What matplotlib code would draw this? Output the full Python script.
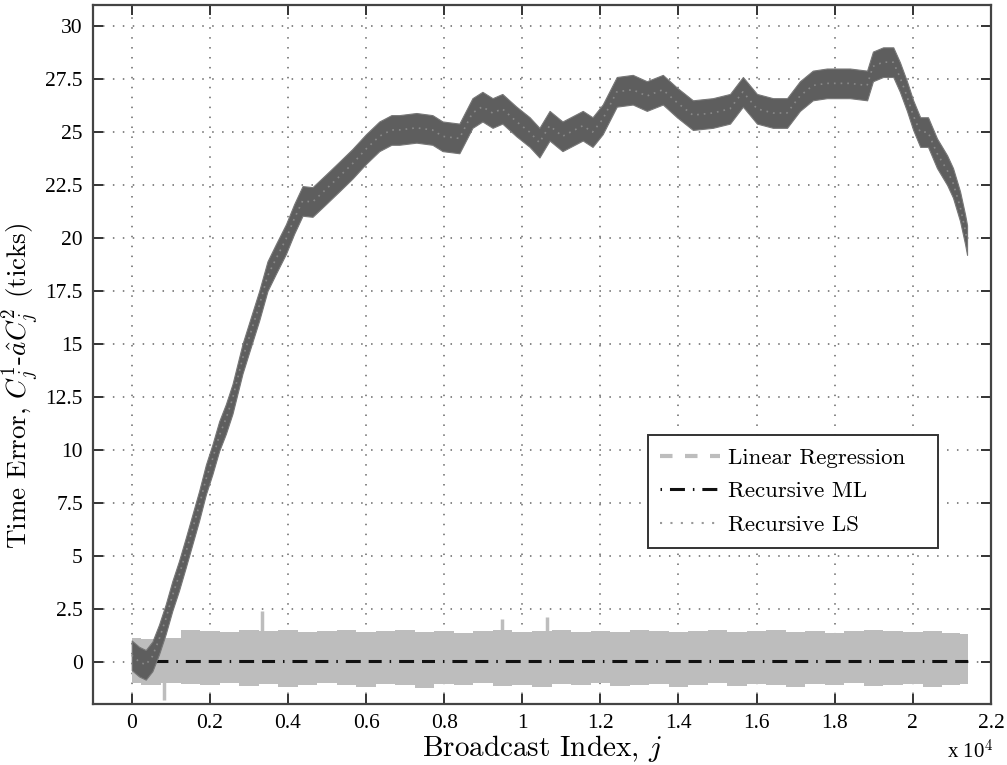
import matplotlib
matplotlib.use("Agg")
import matplotlib.pyplot as plt
from matplotlib.lines import Line2D

plt.rcParams['mathtext.fontset'] = 'cm'
plt.rcParams['font.family'] = ['Liberation Serif', 'DejaVu Serif']

# Recursive LS time error (centre of the noisy trace)
ls_j = [0, 190, 360, 530, 700, 870, 1040, 1210, 1385, 1555, 1725, 1900, 2067,
        2240, 2410, 2580, 2837, 3050, 3264, 3477, 3690, 3950, 4160, 4375, 4630,
        4975, 5315, 5650, 6000, 6340, 6650, 6850, 7290, 7700, 7960, 8390, 8725,
        8980, 9240, 9490, 9850, 10190, 10440, 10700, 11030, 11550, 11800, 12060,
        12420, 12830, 13190, 13600, 13960, 14370, 14880, 15320, 15650, 16010,
        16420, 16780, 17110, 17440, 17800, 18390, 18830, 18980, 19240, 19500,
        19670, 19850, 20010, 20190, 20390, 20620, 20880, 21030, 21210, 21340, 21390]
ls_err = [0.3, 0.0, -0.15, 0.25, 1.05, 2.0, 3.1, 4.05, 5.15, 6.25, 7.35, 8.6, 9.55,
          10.65, 11.45, 12.4, 14.3, 15.55, 16.8, 18.2, 19.0, 19.95, 20.9, 21.75, 21.7,
          22.3, 22.9, 23.5, 24.2, 24.8, 25.1, 25.1, 25.2, 25.1, 24.8, 24.7, 25.9,
          26.2, 25.9, 26.1, 25.5, 25.0, 24.5, 25.3, 24.8, 25.3, 25.0, 25.6,
          26.9, 27.0, 26.7, 27.0, 26.4, 25.8, 25.9, 26.1, 26.9, 26.1,
          25.9, 25.9, 26.7, 27.2, 27.3, 27.3, 27.2, 28.1, 28.3, 28.3,
          27.6, 26.7, 25.8, 25.0, 25.0, 24.0, 23.2, 22.6, 21.5, 20.4, 19.9]
ls_noise = 0.7

# Linear regression error envelope
lr_j = [0, 500, 1000, 1500, 2000, 2500, 3000, 3500, 4000, 4500, 5000, 5500,
        6000, 6500, 7000, 7500, 8000, 8500, 9000, 9500, 10000, 10500, 11000,
        11500, 12000, 12500, 13000, 13500, 14000, 14500, 15000, 15500, 16000,
        16500, 17000, 17500, 18000, 18500, 19000, 19500, 20000, 20500, 21000, 21418]
lr_upper = [1.1, 1.05, 1.1, 1.5, 1.45, 1.4, 1.5, 1.45, 1.5, 1.4, 1.45, 1.5,
            1.4, 1.45, 1.5, 1.4, 1.45, 1.35, 1.45, 1.5, 1.4, 1.45, 1.5,
            1.4, 1.45, 1.4, 1.5, 1.45, 1.4, 1.45, 1.5, 1.4, 1.45,
            1.5, 1.4, 1.45, 1.35, 1.45, 1.5, 1.45, 1.4, 1.45, 1.35, 1.3]
lr_lower = [-1.0, -1.1, -1.0, -1.05, -1.1, -1.0, -1.15, -1.05, -1.2, -1.1, -1.0, -1.1,
            -1.2, -1.05, -1.1, -1.25, -1.05, -1.1, -1.0, -1.15, -1.1, -1.2, -1.05,
            -1.1, -1.0, -1.15, -1.1, -1.05, -1.2, -1.1, -1.0, -1.15, -1.05,
            -1.1, -1.2, -1.05, -1.1, -1.0, -1.15, -1.1, -1.05, -1.2, -1.1, -1.05]
lr_spike_j = [830, 3342, 9494, 10625]
lr_spike_lo = [-1.8, 0.0, 0.0, 0.0]
lr_spike_hi = [0.0, 2.4, 2.0, 2.1]

# Recursive ML error
ml_j = [0, 21418]
ml_err = [0.03, 0.03]

xticks = [0, 2000, 4000, 6000, 8000, 10000, 12000, 14000, 16000, 18000, 20000, 22000]
xtick_labels = ['0', '0.2', '0.4', '0.6', '0.8', '1', '1.2', '1.4', '1.6', '1.8', '2', '2.2']
yticks = [0, 2.5, 5, 7.5, 10, 12.5, 15, 17.5, 20, 22.5, 25, 27.5, 30]
ytick_labels = ['0', '2.5', '5', '7.5', '10', '12.5', '15', '17.5', '20', '22.5', '25', '27.5', '30']

fig = plt.figure(figsize=(10.07, 7.65), dpi=100)
ax = fig.add_axes([0.092, 0.0797, 0.892, 0.9138])

lr_col = '#bdbdbd'
ls_col = '#5e5e5e'

ax.fill_between(lr_j, lr_lower, lr_upper, step='mid', color=lr_col, lw=0, zorder=2)
ax.vlines(lr_spike_j, lr_spike_lo, lr_spike_hi, color=lr_col, lw=2.5, zorder=2)
ax.plot(ml_j, ml_err, color='#111111', lw=2.2,
        linestyle=(0, (4.9, 2.6, 4.25, 2.6, 0.5, 2.6)), zorder=3)
ax.fill_between(ls_j, [v - ls_noise for v in ls_err], [v + ls_noise for v in ls_err],
                color=ls_col, lw=0.8, edgecolor='#777777', zorder=4)
# dotted overlay gives the trace its speckled look
ax.plot(ls_j, ls_err, color='#8a8a8a', lw=1.2, linestyle=(0, (1, 3)), zorder=5)

ax.set_xlim(-1000, 22000)
ax.set_ylim(-2, 31)
ax.set_xticks(xticks)
ax.set_xticklabels(xtick_labels)
ax.set_yticks(yticks)
ax.set_yticklabels(ytick_labels)
ax.tick_params(direction='in', top=True, right=True, length=7, width=1.4,
               labelsize=15.5, color='#333333', pad=7)
ax.grid(True, color='#666666', linestyle=(0, (1, 5.5)), lw=1.1)
for s in ax.spines.values():
    s.set_linewidth(1.6)
    s.set_color('#444444')

ax.set_xlabel('Broadcast Index, $j$', family='cmr10', fontsize=21, labelpad=0)
ax.set_ylabel('Time Error, $C_j^1$-$\\hat{a}C_j^2$ (ticks)', family='cmr10',
              fontsize=19.5)
ax.yaxis.set_label_coords(-0.056, 0.456)
ax.text(0.977, -0.068, 'x 10$^4$', transform=ax.transAxes, ha='center', va='center',
        fontsize=15)

handles = [
    Line2D([], [], color=lr_col, lw=3, linestyle=(0, (3, 3))),
    Line2D([], [], color='#111111', lw=2.2, linestyle=(0, (0.5, 2.6, 4.9, 2.6))),
    Line2D([], [], color='#999999', lw=1.5, linestyle=(0, (1, 4))),
]
leg = ax.legend(handles, ['Linear Regression', 'Recursive ML', 'Recursive LS'],
                loc='lower left', bbox_to_anchor=(0.605, 0.207, 0.349, 0.171),
                mode='expand', prop={'family': 'cmr10', 'size': 16.5},
                fancybox=False, framealpha=1, edgecolor='#333333',
                handlelength=2.6, handletextpad=0.35, borderpad=0.55,
                labelspacing=0.6)
leg.get_frame().set_linewidth(1.4)
leg.set_zorder(10)

plt.savefig('out.png', dpi=100)
